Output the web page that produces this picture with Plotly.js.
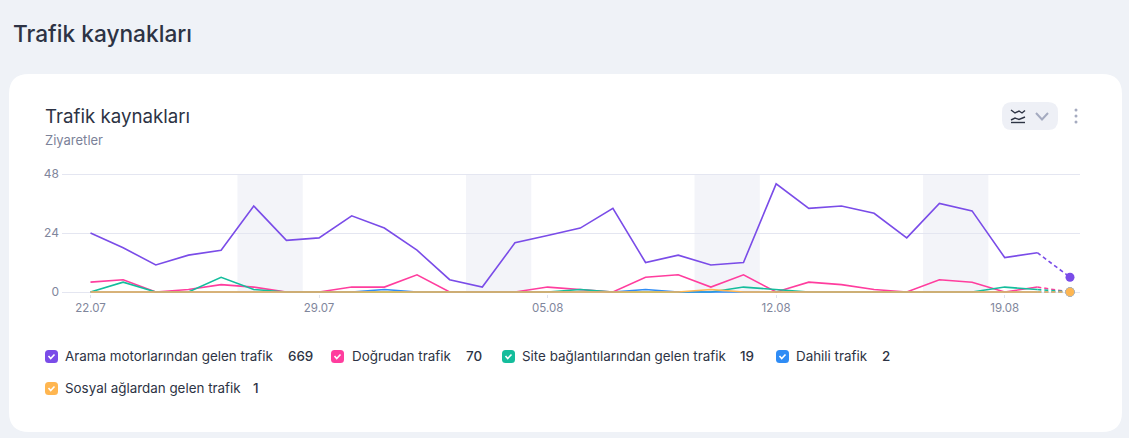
<!DOCTYPE html>
<html>
<head>
<meta charset="utf-8">
<script src="https://cdn.plot.ly/plotly-3.0.1.min.js"></script>
<style>html,body{margin:0;padding:0;background:#eff2f7;overflow:hidden}#chart{width:1129px;height:438px}</style>
</head>
<body>
<div id="chart"></div>
<script>
const dates = ["2024-07-22","2024-07-23","2024-07-24","2024-07-25","2024-07-26","2024-07-27","2024-07-28","2024-07-29","2024-07-30","2024-07-31","2024-08-01","2024-08-02","2024-08-03","2024-08-04","2024-08-05","2024-08-06","2024-08-07","2024-08-08","2024-08-09","2024-08-10","2024-08-11","2024-08-12","2024-08-13","2024-08-14","2024-08-15","2024-08-16","2024-08-17","2024-08-18","2024-08-19","2024-08-20","2024-08-21"];
const arama   = [24,18,11,15,17,35,21,22,31,26,17,5,2,20,23,26,34,12,15,11,12,44,34,35,32,22,36,33,14,16,6];
const dogrudan= [4,5,0,1,3,2,0,0,2,2,7,0,0,0,2,1,0,6,7,2,7,0,4,3,1,0,5,4,0,2,0];
const site    = [0,4,0,0,6,1,0,0,0,0,0,0,0,0,0,1,0,0,0,0,2,1,0,0,0,0,0,0,2,1,0];
const dahili  = [0,0,0,0,0,0,0,0,0,1,0,0,0,0,0,0,0,1,0,0,0,0,0,0,0,0,0,0,0,0,0];
const sosyal  = [0,0,0,0,0,0,0,0,0,0,0,0,0,0,0,0,0,0,0,1,0,0,0,0,0,0,0,0,0,0,0];
const seriesNames = ["Arama motorlarından gelen trafik","Doğrudan trafik","Site bağlantılarından gelen trafik","Dahili trafik","Sosyal ağlardan gelen trafik"];
const seriesTotals = ["669","70","19","2","1"];
const seriesValues = [arama,dogrudan,site,dahili,sosyal];
const seriesColors = ["#7a4ce8","#ff3d9e","#14bd9c","#2f8cf5","#ffb650"];
const weekends = [["2024-07-26 12:00","2024-07-28 12:00"],["2024-08-02 12:00","2024-08-04 12:00"],["2024-08-09 12:00","2024-08-11 12:00"],["2024-08-16 12:00","2024-08-18 12:00"]];
const xTicks = ["2024-07-22","2024-07-29","2024-08-05","2024-08-12","2024-08-19"];
const yTicks = [0,24,48];
const pageTitle = "Trafik kaynakları", cardTitle = "Trafik kaynakları", cardSub = "Ziyaretler";

const FONT = "Inter, 'Noto Sans', sans-serif";
const W=1129,H=438,L=62,R=1080,T=172,B=294;
const px = x => (x-L)/(R-L), py = y => (B-y)/(B-T);

const traces=[];
seriesValues.forEach((v,i)=>{
  const n=v.length;
  traces.push({type:"scatter",mode:"lines",x:dates.slice(0,n-1),y:v.slice(0,n-1),name:seriesNames[i],
    line:{color:seriesColors[i],width:1.6},cliponaxis:false,hoverinfo:"skip",showlegend:false});
  traces.push({type:"scatter",mode:"lines+markers",x:dates.slice(n-2),y:v.slice(n-2),name:seriesNames[i],
    line:{color:seriesColors[i],width:1.6,dash:"4px,3px"},
    marker:{color:seriesColors[i],opacity:1,size:[0,9],line:{width:i==4?0.5:0,color:"#b9bcc8"}},
    cliponaxis:false,hoverinfo:"skip",showlegend:false});
});

function rr(x0,y0,x1,y1,r){
  return `M${x0+r},${y0} L${x1-r},${y0} Q${x1},${y0} ${x1},${y0+r} L${x1},${y1-r} Q${x1},${y1} ${x1-r},${y1} L${x0+r},${y1} Q${x0},${y1} ${x0},${y1-r} L${x0},${y0+r} Q${x0},${y0} ${x0+r},${y0} Z`;
}
function pixShape(path,fill,line,lw){
  return {type:"path",xref:"paper",yref:"paper",xsizemode:"pixel",ysizemode:"pixel",xanchor:px(0),yanchor:py(H),
    path,fillcolor:fill||"rgba(0,0,0,0)",line:{color:line||"rgba(0,0,0,0)",width:lw||0},layer:"below"};
}
const Y = y => H-y;
function srr(x0,y0,x1,y1,r,fill){return pixShape(rr(x0,Y(y1),x1,Y(y0),r),fill);}
function pl(pts,color,w){return pixShape("M"+pts.map(p=>p[0]+","+Y(p[1])).join(" L"),null,color,w);}

const shapes=[ srr(9,74,1122,432,20,"#ffffff") ];
weekends.forEach(w=>shapes.push({type:"rect",xref:"x",yref:"y",x0:w[0],x1:w[1],y0:0,y1:48,fillcolor:"#f3f4f9",line:{width:0},layer:"below"}));
shapes.push(srr(1002,102,1058,130,10,"#eef0f6"));
shapes.push(pl([[1011,110],[1015,113],[1019,111],[1022,113],[1025,110.5]],"#2d3344",1.4));
shapes.push(pl([[1011,120],[1015,118],[1019,119.5],[1025,117]],"#2d3344",1.4));
shapes.push(pl([[1011,122.5],[1025,122.5]],"#2d3344",1.4));
shapes.push(pl([[1036,113],[1042,119.5],[1048,113]],"#a5abc0",2));
[110,116,122].forEach(y=>shapes.push(srr(1074.5,y-1.5,1077.5,y+1.5,1.5,"#a5abc0")));

const annotations=[];
function txt(x,y,text,size,color,weight){
  annotations.push({xref:"paper",yref:"paper",x:px(x-1.5),y:py(y),xanchor:"left",yanchor:"middle",showarrow:false,text,borderpad:0,
    font:{family:FONT,size,color,weight:weight||400}});
}
txt(13,34,pageTitle,22.7,"#2d3344",500);
txt(45,116,cardTitle,18.7,"#2d3344",400);
txt(45,140,cardSub,13,"#7b8299",400);

const legendBox=[45,331,502,776,45], legendName=[65,352,522,796,65], legendVal=[288,466,740,882,253], legendY=[356,356,356,356,388];
seriesNames.forEach((n,i)=>{
  const x=legendBox[i], y=legendY[i];
  shapes.push(srr(x,y-6,x+13,y+7,3.5,seriesColors[i]));
  shapes.push(pl([[x+3.5,y],[x+5.7,y+2.5],[x+9.5,y-1.5]],"#ffffff",1.6));
  txt(legendName[i],y,n,13.4,"#2d3344",400);
  txt(legendVal[i],y,seriesTotals[i],13.4,"#2d3344",500);
});

const layout={
  width:W,height:H,autosize:false,
  margin:{l:L,r:W-R,t:T,b:H-B,pad:0},
  paper_bgcolor:"#eff2f7",plot_bgcolor:"rgba(0,0,0,0)",
  showlegend:false,hovermode:false,
  xaxis:{type:"date",range:["2024-07-21 03:03","2024-08-21 07:21"],tickvals:xTicks,tickformat:"%d.%m",
    ticks:"outside",ticklen:3,tickwidth:1,tickcolor:"#dfe2ec",showgrid:false,zeroline:false,showline:false,
    tickfont:{family:FONT,size:11.5,color:"#7f869c"},fixedrange:true},
  yaxis:{range:[-0.814,48.814],tickvals:yTicks,ticks:"",showgrid:true,gridcolor:"#e4e6f1",gridwidth:1,zeroline:false,showline:false,
    tickfont:{family:FONT,size:12,color:"#7f869c"},ticklabelstandoff:2,fixedrange:true},
  shapes,annotations
};
Plotly.newPlot("chart",traces,layout,{displayModeBar:false,staticPlot:true});
</script>
</body>
</html>
